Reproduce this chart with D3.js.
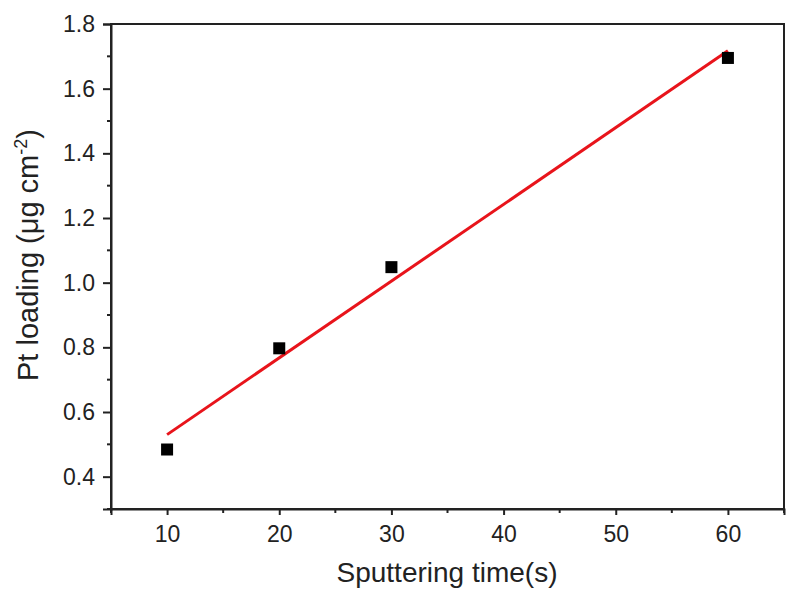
<!DOCTYPE html>
<html>
<head>
<meta charset="utf-8">
<script src="https://cdn.jsdelivr.net/npm/d3@7"></script>
<style>
  body { margin: 0; background: #fff; }
  text { font-family: "Liberation Sans", Arial, sans-serif; fill: #222; }
</style>
</head>
<body>
<div id="chart"></div>
<script>
// data
const times = [10, 20, 30, 60];            // sputtering time (s)
const loading = [0.484, 0.797, 1.048, 1.695]; // Pt loading (ug cm-2)
const fitTimes = [10, 60];                 // linear fit end points
const fitLoading = [0.530, 1.717];
const xTicks = [10, 20, 30, 40, 50, 60];
const yTicks = [0.4, 0.6, 0.8, 1.0, 1.2, 1.4, 1.6, 1.8];

const width = 787, height = 608;
const margin = { top: 24, right: 3, bottom: 99, left: 111 };

const svg = d3.select('#chart').append('svg')
    .attr('width', width)
    .attr('height', height);

const x = d3.scaleLinear().domain([5, 65]).range([margin.left, width - margin.right]);
const y = d3.scaleLinear().domain([0.3, 1.8]).range([height - margin.bottom, margin.top]);

// frame
svg.append('rect')
    .attr('x', x(5)).attr('y', y(1.8))
    .attr('width', x(65) - x(5)).attr('height', y(0.3) - y(1.8))
    .attr('fill', 'none').attr('stroke', '#222').attr('stroke-width', 2);

// minor ticks
const xMinor = d3.range(5, 66, 5).filter(v => v % 10 !== 0);
const yMinor = d3.range(0.3, 1.81, 0.2).map(v => +v.toFixed(1));

const xAxis = svg.append('g').attr('transform', `translate(0,${y(0.3)})`);
xAxis.call(d3.axisBottom(x).tickValues(xTicks).tickSize(6).tickPadding(11).tickFormat(d3.format('d')));
xMinor.forEach(v => {
  xAxis.append('line').attr('x1', x(v)).attr('x2', x(v)).attr('y1', 0).attr('y2', 4)
    .attr('stroke', '#222').attr('stroke-width', 2);
});

const yAxis = svg.append('g').attr('transform', `translate(${x(5)},0)`);
yAxis.call(d3.axisLeft(y).tickValues(yTicks).tickSize(8).tickPadding(8).tickFormat(d3.format('.1f')));
yMinor.forEach(v => {
  yAxis.append('line').attr('x1', 0).attr('x2', -4).attr('y1', y(v)).attr('y2', y(v))
    .attr('stroke', '#222').attr('stroke-width', 2);
});

[xAxis, yAxis].forEach(a => {
  a.select('.domain').attr('stroke', '#222').attr('stroke-width', 2);
  a.selectAll('.tick line').attr('stroke', '#222').attr('stroke-width', 2);
  a.selectAll('.tick text').attr('font-size', 23).attr('fill', '#222')
    .style('font-family', '"Liberation Sans", Arial, sans-serif');
});

// fit line
svg.append('path')
    .datum(fitTimes.map((t, i) => [t, fitLoading[i]]))
    .attr('d', d3.line().x(d => x(d[0])).y(d => y(d[1])))
    .attr('fill', 'none').attr('stroke', '#e8141b').attr('stroke-width', 3);

// points
const s = 12;
svg.selectAll('.pt')
    .data(times.map((t, i) => [t, loading[i]]))
    .enter().append('rect')
    .attr('class', 'pt')
    .attr('x', d => x(d[0]) - s / 2)
    .attr('y', d => y(d[1]) - s / 2)
    .attr('width', s).attr('height', s)
    .attr('fill', '#000');

// axis titles
svg.append('text')
    .attr('x', 447).attr('y', 582)
    .attr('text-anchor', 'middle').attr('font-size', 28)
    .text('Sputtering time(s)');

const yt = svg.append('text')
    .attr('transform', `translate(38,255) rotate(-90)`)
    .attr('text-anchor', 'middle').attr('font-size', 29);
yt.append('tspan').text('Pt loading (μg cm');
yt.append('tspan').attr('font-size', 18).attr('dy', -11).text('-2');
yt.append('tspan').attr('dy', 11).text(')');
</script>
</body>
</html>
